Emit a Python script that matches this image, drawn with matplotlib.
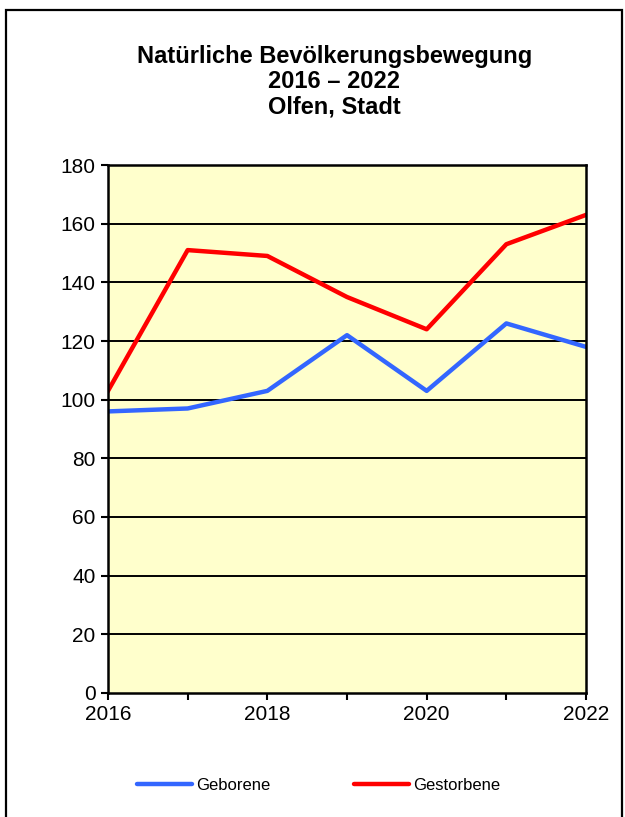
import matplotlib.pyplot as plt
import matplotlib.patches as patches

plt.rcParams['font.family'] = ['Liberation Sans', 'DejaVu Sans']

# Data
years = [2016, 2017, 2018, 2019, 2020, 2021, 2022]
geborene = [96, 97, 103, 122, 103, 126, 118]
gestorbene = [103, 151, 149, 135, 124, 153, 163]
year_labels = ['2016', '', '2018', '', '2020', '', '2022']
y_ticks = [0, 20, 40, 60, 80, 100, 120, 140, 160, 180]

fig = plt.figure(figsize=(6.25, 8.17), dpi=100)
ax = fig.add_axes([0.1728, 0.1518, 0.7648, 0.6462])

ax.set_facecolor('#FFFFCC')
for y in y_ticks[1:-1]:
    ax.axhline(y, color='black', linewidth=1.4, zorder=1)

ax.plot(years, geborene, color='#3366FF', linewidth=3.2, label='Geborene', zorder=3)
ax.plot(years, gestorbene, color='#FF0000', linewidth=3.2, label='Gestorbene', zorder=3)

ax.set_xlim(2016, 2022)
ax.set_ylim(0, 180)
ax.set_xticks(years)
ax.set_xticklabels(year_labels)
ax.set_yticks(y_ticks)
ax.tick_params(direction='out', length=5, width=1.5, labelsize=15, pad=4)
for s in ax.spines.values():
    s.set_linewidth(1.8)
    s.set_zorder(4)

# Title
fig.text(0.535, 0.945, 'Natürliche Bevölkerungsbewegung\n2016 – 2022\nOlfen, Stadt',
         ha='center', va='top', fontsize=17, fontweight='bold', linespacing=1.12)

# Legend
leg = fig.legend(loc='center', bbox_to_anchor=(0.51, 0.039), ncol=2, frameon=False,
                 fontsize=12, handlelength=3.3, handletextpad=0.25, columnspacing=5.0)
for line in leg.get_lines():
    line.set_linewidth(3.2)
    line.set_solid_capstyle('round')

# Outer frame
frame = patches.Rectangle((6 / 625, -0.01), 616 / 625, 1 - 10 / 817 + 0.01,
                          transform=fig.transFigure, fill=False, edgecolor='black',
                          linewidth=1.6, clip_on=False)
fig.patches.append(frame)

fig.savefig('out.png', dpi=100)
